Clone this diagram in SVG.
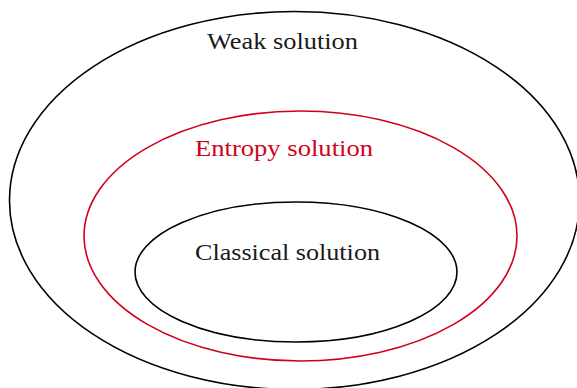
<svg xmlns="http://www.w3.org/2000/svg" width="577" height="388" viewBox="0 0 577 388">
<style>
.e{fill:none;stroke:#000;stroke-width:1.6}
.r{stroke:#d0021b}
text{font-family:"Liberation Serif","DejaVu Serif",serif;font-size:23.5px;fill:#1a1a1a}
.rt{fill:#d0021b}
</style>
<rect width="577" height="388" fill="#fff"/>
<g id="weak">
<ellipse class="e" cx="294.5" cy="200.5" rx="285" ry="189"/>
<text x="207" y="49" textLength="151" lengthAdjust="spacingAndGlyphs">Weak solution</text>
</g>
<g id="entropy">
<ellipse class="e r" cx="300.5" cy="236" rx="216.5" ry="125"/>
<text class="rt" x="195" y="156" textLength="178" lengthAdjust="spacingAndGlyphs">Entropy solution</text>
</g>
<g id="classical">
<ellipse class="e" cx="296" cy="272" rx="161" ry="70"/>
<text x="195" y="259.5" textLength="185" lengthAdjust="spacingAndGlyphs">Classical solution</text>
</g>
<g id="connectors"/>
</svg>
